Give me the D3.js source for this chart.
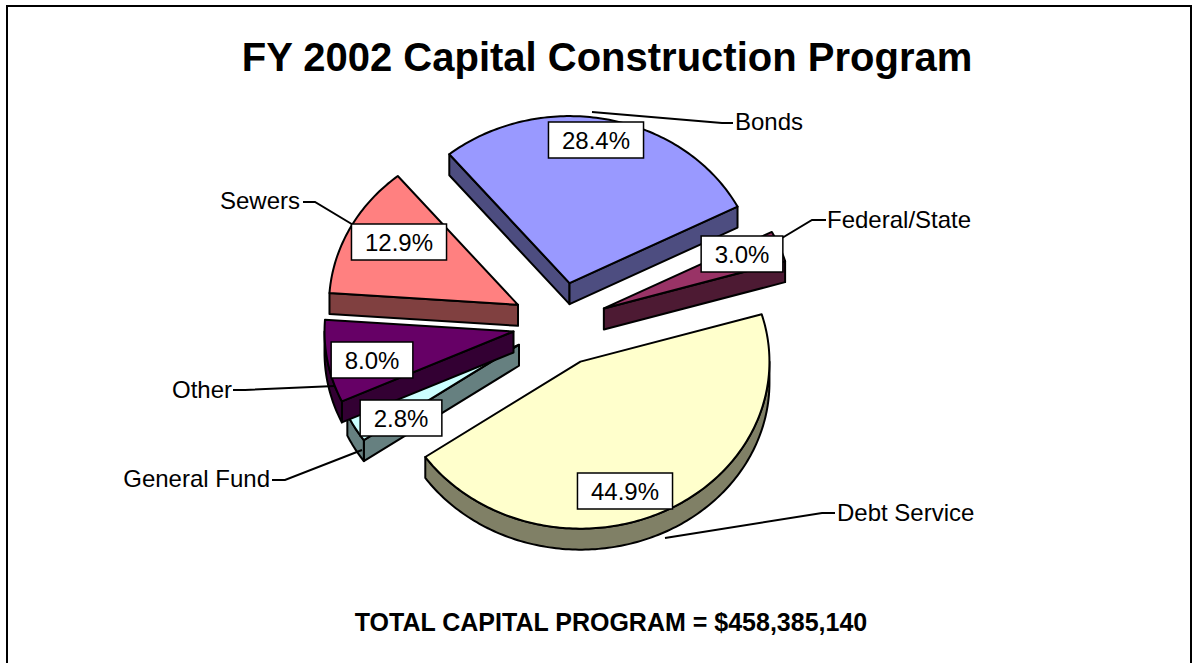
<!DOCTYPE html>
<html>
<head>
<meta charset="utf-8">
<script src="https://cdn.jsdelivr.net/npm/d3@7"></script>
<style>
  html, body { margin: 0; padding: 0; background: #fff; overflow: hidden; }
  text { font-family: "Liberation Sans", Arial, sans-serif; fill: #000; }
</style>
</head>
<body>
<div id="chart"></div>
<script>
// Values, clockwise from the left edge of Bonds
const categories = ["Bonds", "Federal/State", "Debt Service", "General Fund", "Other", "Sewers"];
const shares = [28.4, 3.0, 44.9, 2.8, 8.0, 12.9];
const topColors = ["#9999ff", "#993366", "#ffffcc", "#ccffff", "#660066", "#ff8080"];

const titleText = "FY 2002 Capital Construction Program";
const totalText = "TOTAL CAPITAL PROGRAM = $458,385,140";

// Back to front
const drawOrder = ["Bonds", "Federal/State", "Sewers", "General Fund", "Other", "Debt Service"];

const width = 1200, height = 663;
const cx = 560, cy = 324;     // centre before the slices are pulled out
const rx = 189, ry = 167;     // tilted pie is an ellipse
const depth = 21;
const explode = 0.25;
const startDeg = -39.5;

// Label box centre, and the leader line for each slice
const labelLayout = {
  "Bonds":         { box: [596, 140], text: [735, 122], anchor: "start", leader: [[733, 123], [722, 123], [592, 112]] },
  "Federal/State": { box: [742, 254], text: [827, 220], anchor: "start", leader: [[826, 220], [812, 220], [777, 241]] },
  "Debt Service":  { box: [625, 491], text: [837, 513], anchor: "start", leader: [[835, 513], [822, 513], [665, 538]] },
  "General Fund":  { box: [401, 418], text: [270, 479], anchor: "end",   leader: [[272, 480], [285, 480], [362, 450]] },
  "Other":         { box: [372, 360], text: [232, 390], anchor: "end",   leader: [[233, 390], [245, 390], [335, 386]] },
  "Sewers":        { box: [399, 242], text: [300, 201], anchor: "end",   leader: [[303, 202], [315, 202], [355, 226]] }
};

const svg = d3.select("#chart").append("svg")
  .attr("width", width)
  .attr("height", height)
  .style("display", "block");

// Frame runs off the bottom of the picture
svg.append("rect")
  .attr("x", 7).attr("y", 6)
  .attr("width", 1184).attr("height", height + 20)
  .attr("fill", "#fff")
  .attr("stroke", "#000")
  .attr("stroke-width", 2);

svg.append("text")
  .attr("x", 607).attr("y", 71)
  .attr("text-anchor", "middle")
  .attr("font-size", 40)
  .attr("font-weight", "bold")
  .text(titleText);

svg.append("text")
  .attr("x", 611).attr("y", 631)
  .attr("text-anchor", "middle")
  .attr("font-size", 25)
  .attr("font-weight", "bold")
  .text(totalText);

const pie = d3.pie()
  .sort(null)
  .startAngle(startDeg * Math.PI / 180)
  .endAngle((startDeg + 360) * Math.PI / 180);

const arcs = pie(shares).map((d, i) => ({
  name: categories[i],
  value: shares[i],
  top: topColors[i],
  side: d3.interpolateRgb(topColors[i], "#000")(0.5),
  start: d.startAngle,
  end: d.endAngle
}));

const line = d3.line();

function ellipsePoint(a, k) {
  return [rx * k * Math.sin(a), -ry * k * Math.cos(a)];
}

// Points along the rim between two angles, roughly every degree
function rimPoints(a0, a1) {
  const n = Math.max(2, Math.ceil((a1 - a0) * 180 / Math.PI));
  return d3.range(n + 1).map(i => ellipsePoint(a0 + (a1 - a0) * i / n, 1));
}

function drawSlice(d) {
  const mid = (d.start + d.end) / 2;
  const off = ellipsePoint(mid, explode);
  const g = svg.append("g")
    .attr("transform", `translate(${cx + off[0]},${cy + off[1]})`)
    .attr("stroke", "#000")
    .attr("stroke-width", 2)
    .attr("stroke-linejoin", "round");

  const down = p => [p[0], p[1] + depth];
  const wall = pts => pts.concat(pts.slice().reverse().map(down));
  const tau = Math.PI * 2;

  // Only walls that face the viewer
  if (Math.sin(d.start) < 0) {
    g.append("path").attr("fill", d.side)
      .attr("d", line(wall([[0, 0], ellipsePoint(d.start, 1)])) + "Z");
  }
  if (Math.sin(d.end) > 0) {
    g.append("path").attr("fill", d.side)
      .attr("d", line(wall([[0, 0], ellipsePoint(d.end, 1)])) + "Z");
  }
  // Front half of the rim is 90 to 270 degrees
  const a0 = Math.max(d.start, Math.PI / 2);
  const a1 = Math.min(d.end, Math.PI * 1.5);
  if (a1 > a0) {
    g.append("path").attr("fill", d.side)
      .attr("d", line(wall(rimPoints(a0, a1))) + "Z");
  }
  // Rim of the slices that start past 270 has no front part once wrapped
  const b0 = Math.max(d.start - tau, Math.PI / 2);
  const b1 = Math.min(d.end - tau, Math.PI * 1.5);
  if (b1 > b0) {
    g.append("path").attr("fill", d.side)
      .attr("d", line(wall(rimPoints(b0, b1))) + "Z");
  }

  g.append("path").attr("fill", d.top)
    .attr("d", line([[0, 0]].concat(rimPoints(d.start, d.end))) + "Z");
}

const byName = new Map(arcs.map(d => [d.name, d]));
drawOrder.forEach(name => drawSlice(byName.get(name)));

// Leaders and category names
arcs.forEach(d => {
  const lay = labelLayout[d.name];
  svg.append("path")
    .attr("d", line(lay.leader))
    .attr("fill", "none")
    .attr("stroke", "#000")
    .attr("stroke-width", 2);
  svg.append("text")
    .attr("x", lay.text[0])
    .attr("y", lay.text[1] + 8)
    .attr("text-anchor", lay.anchor)
    .attr("font-size", 24)
    .text(d.name);
});

// Percent boxes go on top of everything
arcs.forEach(d => {
  const lay = labelLayout[d.name];
  const g = svg.append("g").attr("transform", `translate(${lay.box[0]},${lay.box[1]})`);
  const rect = g.append("rect")
    .attr("fill", "#fff")
    .attr("stroke", "#000")
    .attr("stroke-width", 1.5);
  const t = g.append("text")
    .attr("text-anchor", "middle")
    .attr("y", 9)
    .attr("font-size", 24)
    .text(d3.format(".1f")(d.value) + "%");
  const w = t.node().getComputedTextLength() + 27;
  rect.attr("x", -w / 2).attr("y", -18).attr("width", w).attr("height", 36);
});
</script>
</body>
</html>
